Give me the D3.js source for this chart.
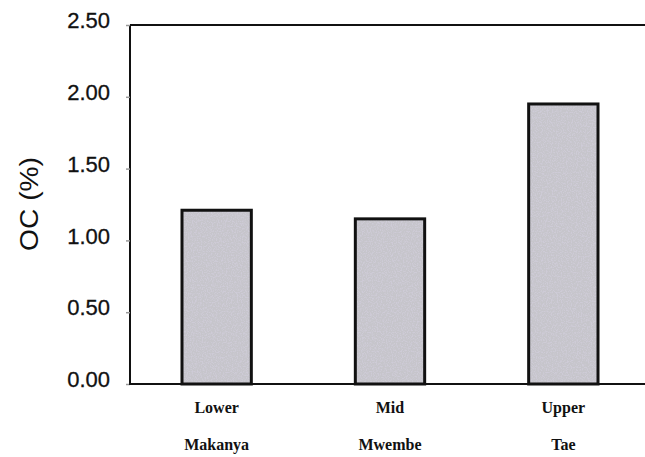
<!DOCTYPE html>
<html><head><meta charset="utf-8">
<script src="https://cdn.jsdelivr.net/npm/d3@7"></script>
<style>html,body{margin:0;padding:0;background:#fff;}svg{display:block;}</style>
</head><body>
<script>
const categoriesTop = ["Lower", "Mid", "Upper"];
const categoriesBottom = ["Makanya", "Mwembe", "Tae"];
const ocValues = [1.21, 1.15, 1.95];
const yTicks = [0, 0.5, 1.0, 1.5, 2.0, 2.5];

const W = 645, H = 457;
const svg = d3.select("body").append("svg").attr("width", W).attr("height", H);

const defs = svg.append("defs");
const f = defs.append("filter").attr("id", "speckle").attr("x", 0).attr("y", 0).attr("width", 1).attr("height", 1);
f.append("feTurbulence").attr("type", "fractalNoise").attr("baseFrequency", 0.8).attr("numOctaves", 2).attr("seed", 3).attr("result", "noise");
f.append("feColorMatrix").attr("in", "noise").attr("type", "matrix")
  .attr("values", "0 0 0 0 0.62  0 0 0 0 0.6  0 0 0 0 0.68  4 0 0 0 -1.8").attr("result", "dots");
f.append("feComposite").attr("in", "dots").attr("in2", "SourceGraphic").attr("operator", "atop");

const mLeft = 130, mRight = 650, mTop = 25, mBottom = 384;
const x = d3.scaleBand().domain(categoriesTop).range([mLeft, mRight]).paddingInner(0.6).paddingOuter(0.3);
const y = d3.scaleLinear().domain([0, 2.5]).range([mBottom, mTop]);

// bars
const bars = svg.append("g");
bars.selectAll("rect.fill").data(ocValues).join("rect")
  .attr("class", "fill")
  .attr("x", (d, i) => x(categoriesTop[i]))
  .attr("y", d => y(d))
  .attr("width", x.bandwidth())
  .attr("height", d => y(0) - y(d))
  .attr("fill", "#c6c5cb")
  .attr("filter", "url(#speckle)");
bars.selectAll("rect.stroke").data(ocValues).join("rect")
  .attr("class", "stroke")
  .attr("x", (d, i) => x(categoriesTop[i]))
  .attr("y", d => y(d))
  .attr("width", x.bandwidth())
  .attr("height", d => y(0) - y(d))
  .attr("fill", "none")
  .attr("stroke", "#111")
  .attr("stroke-width", 3);

// y axis
const yAxis = d3.axisLeft(y).tickValues(yTicks).tickFormat(d3.format(".2f")).tickSize(4).tickPadding(16);
const gy = svg.append("g").attr("transform", `translate(${mLeft},0)`).call(yAxis);
gy.select(".domain").attr("stroke", "#111").attr("stroke-width", 2).attr("d", `M0,${mTop}V${mBottom}`);
gy.selectAll(".tick line").attr("stroke", "#999").attr("stroke-width", 1.5);
gy.selectAll(".tick text").attr("font-family", "Liberation Sans, Arial, sans-serif").attr("font-size", 22)
  .attr("fill", "#111").attr("stroke", "#111").attr("stroke-width", 0.3).attr("dy", "0.12em");

// top and bottom lines
svg.append("line").attr("x1", mLeft).attr("x2", W).attr("y1", mTop).attr("y2", mTop).attr("stroke", "#111").attr("stroke-width", 2);
svg.append("line").attr("x1", mLeft - 1).attr("x2", W).attr("y1", mBottom).attr("y2", mBottom).attr("stroke", "#111").attr("stroke-width", 2);

// x labels
const xl = svg.append("g").attr("font-family", "Liberation Serif, Times New Roman, serif").attr("font-weight", "bold").attr("font-size", 16).attr("fill", "#111").attr("text-anchor", "middle");
xl.selectAll("text.t").data(categoriesTop).join("text").attr("class", "t")
  .attr("x", d => x(d) + x.bandwidth() / 2).attr("y", 413).text(d => d);
xl.selectAll("text.b").data(categoriesBottom).join("text").attr("class", "b")
  .attr("x", (d, i) => x(categoriesTop[i]) + x.bandwidth() / 2).attr("y", 450).text(d => d);

// y label
svg.append("text").attr("transform", `translate(38,204) rotate(-90)`)
  .attr("text-anchor", "middle").attr("font-family", "Liberation Sans, Arial, sans-serif").attr("font-size", 26).attr("fill", "#111")
  .attr("textLength", 94).attr("lengthAdjust", "spacingAndGlyphs")
  .text("OC (%)");
</script>
</body></html>
